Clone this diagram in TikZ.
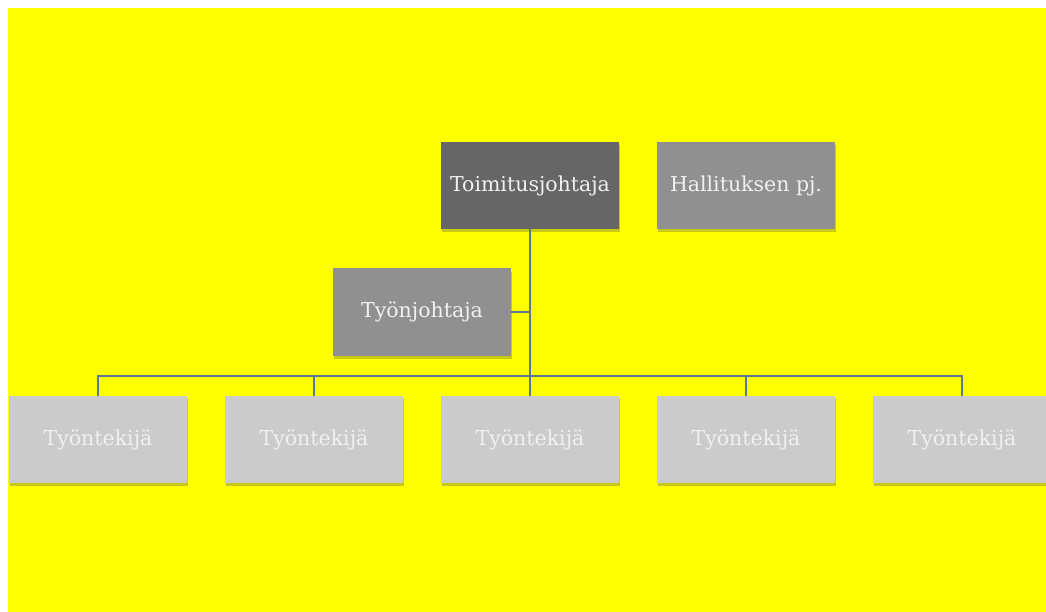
\documentclass[tikz,border=0pt]{standalone}
\usepackage{fontspec}
\setmainfont{DejaVu Serif}
\usetikzlibrary{shadows}
\definecolor{bgyellow}{HTML}{FFFF00}
\definecolor{dark}{HTML}{666666}
\definecolor{mid}{HTML}{909090}
\definecolor{light}{HTML}{CBCBCB}
\definecolor{wire}{HTML}{5A7A94}
\definecolor{txt}{HTML}{F0F0F0}
\begin{document}
\begin{tikzpicture}[x=1pt,y=-1pt,
  boxstyle/.style={minimum width=178pt, minimum height=87pt, inner sep=0pt,
    text=txt, font=\fontsize{20.5}{24}\selectfont,
    drop shadow={shadow xshift=1pt, shadow yshift=-3pt, opacity=0.3, fill=black!70}},
  darkbox/.style={boxstyle, fill=dark},
  midbox/.style={boxstyle, fill=mid},
  lightbox/.style={boxstyle, fill=light},
  wirestyle/.style={draw=wire, line width=1.8pt}]
\useasboundingbox (0,0) rectangle (1046,612);
\fill[white] (0,0) rectangle (1046,612);
\fill[bgyellow] (8,8) rectangle (1046,612);
\begin{scope}
\clip (0,0) rectangle (1046,612);
\node[darkbox] (ceo) at (530,185.5) {Toimitusjohtaja};
\node[midbox] (board) at (746,185.5) {Hallituksen pj.};
\node[midbox] (lead) at (422,312) {Työnjohtaja};
\node[lightbox] (w1) at (98,439.5) {Työntekijä};
\node[lightbox] (w2) at (314,439.5) {Työntekijä};
\node[lightbox] (w3) at (530,439.5) {Työntekijä};
\node[lightbox] (w4) at (746,439.5) {Työntekijä};
\node[lightbox] (w5) at (962,439.5) {Työntekijä};
\end{scope}
\coordinate (bus) at (530,376);
\draw[wirestyle] (ceo.south) -- (w3.north);
\draw[wirestyle] (lead.east) -- (lead.east -| ceo.south);
\draw[wirestyle] (w1.north) -- (w1.north |- bus) -- (w5.north |- bus) -- (w5.north);
\draw[wirestyle] (w2.north) -- (w2.north |- bus);
\draw[wirestyle] (w4.north) -- (w4.north |- bus);
\end{tikzpicture}
\end{document}
